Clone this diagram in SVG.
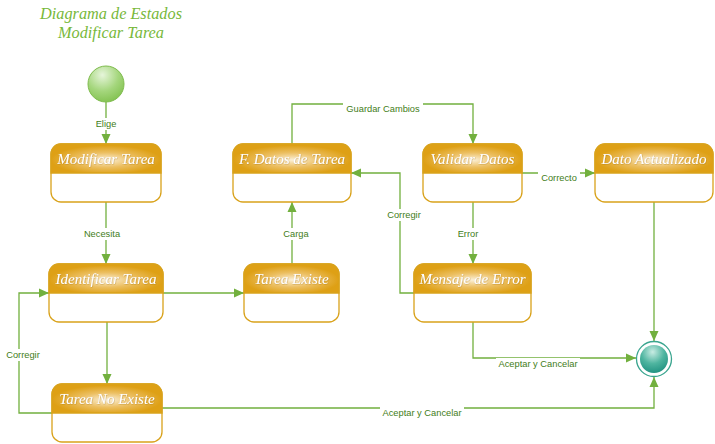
<svg xmlns="http://www.w3.org/2000/svg" width="715" height="444" viewBox="0 0 715 444">
<style>
.title{font-family:"Liberation Serif",serif;font-style:italic;font-size:16.3px;fill:#78b83a;text-anchor:middle}
.box{fill:#fff;stroke:#d9a21b;stroke-width:1.3}
.hdr{fill:url(#hg);stroke:#d9a21b;stroke-width:1.3}
.nt{font-family:"Liberation Serif",serif;font-style:italic;font-size:15px;fill:#fff;text-anchor:middle;filter:url(#ts)}
.cn{fill:none;stroke:#72b03e;stroke-width:1.3}
.lb{font-family:"Liberation Sans",sans-serif;font-size:9.3px;fill:#3f7d20;text-anchor:middle}
.lbg{fill:#fff}
</style>
<defs>
<filter id="ts" x="-10%" y="-30%" width="120%" height="160%">
<feDropShadow dx="0.4" dy="0.5" stdDeviation="0.4" flood-color="#9a6a00" flood-opacity="0.55"/>
</filter>
<radialGradient id="hg" cx="50%" cy="55%" r="50%">
<stop offset="0" stop-color="#fbf0d8"/>
<stop offset="0.5" stop-color="#ecbf62"/>
<stop offset="1" stop-color="#dea015"/>
</radialGradient>
<radialGradient id="sg" cx="40%" cy="25%" r="75%">
<stop offset="0" stop-color="#e6f5da"/>
<stop offset="0.6" stop-color="#a4d67c"/>
<stop offset="1" stop-color="#86c455"/>
</radialGradient>
<radialGradient id="eg" cx="45%" cy="25%" r="75%">
<stop offset="0" stop-color="#c8ece3"/>
<stop offset="0.55" stop-color="#4fb5a0"/>
<stop offset="1" stop-color="#239483"/>
</radialGradient>
<marker id="ar" markerUnits="userSpaceOnUse" markerWidth="10" markerHeight="10" viewBox="0 0 10 10" refX="10" refY="5" orient="auto">
<path d="M0,0.5 L10,5 L0,9.5 Z" fill="#72b03e"/>
</marker>
</defs>

<text class="title" x="111" y="19">Diagrama de Estados</text>
<text class="title" x="111" y="38">Modificar Tarea</text>

<g id="connectors">
<path class="cn" d="M106,102 V144" marker-end="url(#ar)"/>
<path class="cn" d="M106,202 V264" marker-end="url(#ar)"/>
<path class="cn" d="M163,293 H244" marker-end="url(#ar)"/>
<path class="cn" d="M107,322 V384" marker-end="url(#ar)"/>
<path class="cn" d="M52,413 H19 V293 H49" marker-end="url(#ar)"/>
<path class="cn" d="M292,264 V202" marker-end="url(#ar)"/>
<path class="cn" d="M292,144 V104 H473 V144" marker-end="url(#ar)"/>
<path class="cn" d="M522,173 H595" marker-end="url(#ar)"/>
<path class="cn" d="M473,202 V264" marker-end="url(#ar)"/>
<path class="cn" d="M414,293 H400 V173 H351" marker-end="url(#ar)"/>
<path class="cn" d="M473,322 V358 H636" marker-end="url(#ar)"/>
<path class="cn" d="M162,408 H654 V377" marker-end="url(#ar)"/>
<path class="cn" d="M654,202 V341" marker-end="url(#ar)"/>

<rect class="lbg" x="90" y="118" width="32" height="12"/>
<text class="lb" x="106" y="127">Elige</text>
<rect class="lbg" x="80" y="228" width="44" height="12"/>
<text class="lb" x="102" y="237">Necesita</text>
<rect class="lbg" x="281" y="228" width="30" height="12"/>
<text class="lb" x="296" y="237">Carga</text>
<rect class="lbg" x="343" y="103" width="80" height="12"/>
<text class="lb" x="383" y="112">Guardar Cambios</text>
<rect class="lbg" x="538" y="172" width="42" height="12"/>
<text class="lb" x="559" y="181">Correcto</text>
<rect class="lbg" x="385" y="209" width="38" height="12"/>
<text class="lb" x="404" y="218">Corregir</text>
<rect class="lbg" x="455" y="228" width="26" height="12"/>
<text class="lb" x="468" y="237">Error</text>
<rect class="lbg" x="4" y="349" width="38" height="12"/>
<text class="lb" x="23" y="358">Corregir</text>
<rect class="lbg" x="496" y="358" width="84" height="12"/>
<text class="lb" x="538" y="367">Aceptar y Cancelar</text>
<rect class="lbg" x="380" y="407" width="84" height="12"/>
<text class="lb" x="422" y="416">Aceptar y Cancelar</text>
</g>

<g id="start">
<circle cx="106" cy="84" r="18" fill="url(#sg)" stroke="#7fbc4e" stroke-width="1"/>
</g>

<g id="end">
<circle cx="654" cy="359" r="17.5" fill="#fff" stroke="#3aa58f" stroke-width="1.3"/>
<circle cx="654" cy="359" r="14" fill="url(#eg)"/>
</g>

<g id="n-modificar">
<rect class="box" x="51" y="144" width="110" height="58" rx="10"/>
<path class="hdr" d="M51,173 V154 A10,10 0 0 1 61,144 H151 A10,10 0 0 1 161,154 V173 Z"/>
<text class="nt" x="106" y="164">Modificar Tarea</text>
</g>

<g id="n-fdatos">
<rect class="box" x="233" y="144" width="118" height="58" rx="10"/>
<path class="hdr" d="M233,173 V154 A10,10 0 0 1 243,144 H341 A10,10 0 0 1 351,154 V173 Z"/>
<text class="nt" x="292" y="164">F. Datos de Tarea</text>
</g>

<g id="n-validar">
<rect class="box" x="423" y="144" width="99" height="58" rx="10"/>
<path class="hdr" d="M423,173 V154 A10,10 0 0 1 433,144 H512 A10,10 0 0 1 522,154 V173 Z"/>
<text class="nt" x="472.5" y="164">Validar Datos</text>
</g>

<g id="n-dato">
<rect class="box" x="595" y="144" width="118" height="58" rx="10"/>
<path class="hdr" d="M595,173 V154 A10,10 0 0 1 605,144 H703 A10,10 0 0 1 713,154 V173 Z"/>
<text class="nt" x="654" y="164">Dato Actualizado</text>
</g>

<g id="n-identificar">
<rect class="box" x="49" y="264" width="114" height="58" rx="10"/>
<path class="hdr" d="M49,293 V274 A10,10 0 0 1 59,264 H153 A10,10 0 0 1 163,274 V293 Z"/>
<text class="nt" x="106" y="284">Identificar Tarea</text>
</g>

<g id="n-existe">
<rect class="box" x="244" y="264" width="95" height="58" rx="10"/>
<path class="hdr" d="M244,293 V274 A10,10 0 0 1 254,264 H329 A10,10 0 0 1 339,274 V293 Z"/>
<text class="nt" x="291.5" y="284">Tarea Existe</text>
</g>

<g id="n-mensaje">
<rect class="box" x="414" y="264" width="117" height="58" rx="10"/>
<path class="hdr" d="M414,293 V274 A10,10 0 0 1 424,264 H521 A10,10 0 0 1 531,274 V293 Z"/>
<text class="nt" x="472.5" y="284">Mensaje de Error</text>
</g>

<g id="n-noexiste">
<rect class="box" x="52" y="384" width="110" height="58" rx="10"/>
<path class="hdr" d="M52,413 V394 A10,10 0 0 1 62,384 H152 A10,10 0 0 1 162,394 V413 Z"/>
<text class="nt" x="107" y="404">Tarea No Existe</text>
</g>
</svg>
